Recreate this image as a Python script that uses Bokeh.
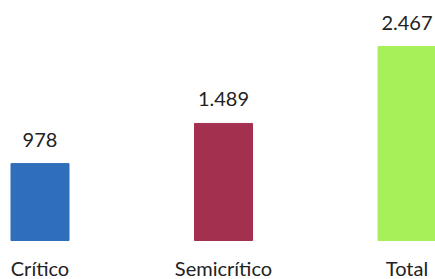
from bokeh.plotting import figure
from bokeh.models import Range1d, ColumnDataSource
from bokeh.core.properties import value
from bokeh.embed import file_html
from bokeh.resources import INLINE

categories = ["Crítico", "Semicrítico", "Total"]
values = [978, 1489, 2467]
colors = ["#2F6EBA", "#A3304E", "#A8F05A"]

xs = list(range(len(categories)))
labels = [f"{v:,}".replace(",", ".") for v in values]
src = ColumnDataSource(dict(x=xs, top=values, color=colors, label=labels,
                            cat=categories, base=[0] * len(xs)))

p = figure(width=435, height=279, output_backend="svg", toolbar_location=None,
           x_range=Range1d(-0.2153, 2.1553), y_range=Range1d(-496, 3053),
           min_border_left=0, min_border_right=0, min_border_top=0, min_border_bottom=0)
p.outline_line_color = None
p.grid.grid_line_color = None
p.xaxis.visible = False
p.yaxis.visible = False

p.vbar(x="x", top="top", bottom=0, width=0.316, color="color", source=src)
p.text(x="x", y="top", text="label", source=src, text_align="center",
       text_baseline="middle", y_offset=-24, text_font=value("Lato"),
       text_font_size="20px", text_color="#222222")
p.text(x="x", y="base", text="cat", source=src, text_align="center",
       text_baseline="middle", y_offset=27, text_font=value("Lato"),
       text_font_size="20px", text_color="#222222")

open("out.html", "w").write(file_html(p, INLINE))
